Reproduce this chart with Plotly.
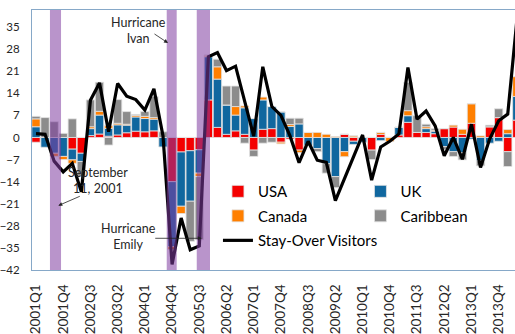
import plotly.graph_objects as go

# Quarterly periods, 2001Q1 .. 2014Q2
quarters = [f"{y}Q{q}" for y in range(2001, 2015) for q in range(1, 5)][:54]

# Contribution to growth by source market (percentage points)
usa = [-1.5, 0, 0, 0, -3.7, -5.0, 0.6, 1.1, 0.4, 0.8,
       1.5, 2.0, 1.8, 2.1, 0, -14.0, -4.6, -4.2, -3.9, 11.9,
       3.2, 1.0, 2.1, 1.0, -4.0, 2.6, 2.8, -1.5, -0.5, -4.0,
       0, 0, 0, 0, 1.0, -1.2, 0, -4.0, 1.0, 0,
       0.8, 4.8, 1.6, 1.6, 1.2, 2.8, 3.3, 1.0, 4.5, 0,
       3.4, 6.3, -4.5, 5.5]
uk = [3.4, -3.1, -5.0, -6.0, -3.4, -2.6, 2.2, 6.0, 2.5, 3.2,
      2.4, 4.5, 4.2, 3.7, -3.0, -20.6, -17.2, -16.0, -7.4, 13.7,
      15.3, 9.3, 5.0, 8.4, 6.0, 9.3, 7.0, 8.1, 3.5, 4.3,
      -2.5, -3.5, -8.3, -12.4, -4.5, -1.0, -1.5, 0, -1.0, 0,
      2.4, 2.1, 0, 1.2, 0.8, -2.9, -4.5, -4.8, -0.5, -7.4,
      -1.8, -1.2, 1.2, 7.5]
canada = [2.5, 0, -1.0, -1.0, -1.1, 0, 0.6, 1.2, 0.8, 0.5,
          0.3, 0.5, 0.7, 0.5, 0, -0.9, -2.3, 0, -1.1, 0.5,
          3.9, 0, 2.7, 0.6, 0, 0.9, 0, -0.5, 0.6, -0.8,
          1.6, 1.6, 1.0, 0.3, -1.6, 0.5, 0, 0, 0.6, -1.3,
          0, 1.6, 0, 0.6, 0.3, 0, 0.6, 1.6, 6.2, 0.5,
          0, 0, 1.3, 6.3]
caribbean = [0.8, 6.3, 5.0, 1.3, 5.9, -4.7, 8.5, 9.2, -2.4, 7.5,
             4.0, 0.3, 1.5, 6.7, 1.8, 0, 0, -12.7, -20.0, 0,
             2.4, 6.0, 6.5, -1.8, -2.0, -1.8, -1.5, 0, 2.0, 1.8,
             0, -1.0, -3.0, -3.5, 0, 0, 0, -3.0, 0, 0,
             0, 9.0, 5.3, 0.8, 0.5, -1.0, -1.5, -2.3, 0, -1.6,
             0.5, 2.8, -4.7, 0]

# Total stay-over visitor growth (%)
stay_over = [1.2, 1.0, -7.5, -10.9, -8.2, -17.2, 11.8, 17.3, 1.8, 17.1,
             13.1, 12.0, 8.7, 15.4, 0.5, -40.2, -25.5, -35.6, -34.4, 25.6,
             26.9, 21.2, 22.6, 11.3, 0.4, 22.4, 9.8, 7.0, 0.5, -8.0,
             -1.2, -7.2, -7.9, -20.0, -13.0, -6.5, 0.8, -13.5, -3.0, -1.2,
             1.1, 22.2, 5.8, 8.4, 3.7, -5.8, 0, -6.9, 4.2, -9.5,
             -0.5, 5.3, 7.4, 37.0]

tick_labels = quarters[0:52:3]
y_ticks = list(range(-42, 36, 7))

# Shaded event periods, in category units
events = [(1.54, 2.76), (14.41, 15.51), (17.72, 19.18)]

FONT = "Lato"
TXT = "#262626"
Y_MIN, Y_MAX = -42, 40.4
X_MIN, X_MAX = -0.44, 52.8

fig = go.Figure()

series = [
    ("USA", usa, "#F40000", "legend"),
    ("UK", uk, "#10679F", "legend2"),
    ("Canada", canada, "#FF7F00", "legend"),
    ("Caribbean", caribbean, "#8C8C8C", "legend2"),
]
for name, vals, color, leg in series:
    fig.add_trace(go.Bar(
        x=quarters, y=vals, name=name, legend=leg, legendgroup=name,
        marker=dict(color=color, line=dict(color="#E3E3E3", width=0.8)),
    ))

fig.add_trace(go.Scatter(
    x=quarters, y=stay_over, name="Stay-Over Visitors", mode="lines",
    legend="legend", legendgroup="stay",
    line=dict(color="black", width=3.2),
))

for x0, x1 in events:
    fig.add_shape(type="rect", xref="x", yref="y", x0=x0, x1=x1,
                  y0=Y_MIN, y1=Y_MAX, layer="above", line=dict(width=0),
                  fillcolor="rgb(128,60,160)", opacity=0.55)

ann_font = dict(family=FONT, size=12.5, color=TXT)
fig.add_annotation(x=11.3, y=33.85, text="Hurricane<br>Ivan", showarrow=False,
                   font=ann_font)
fig.add_annotation(x=6.78, y=-13.57, text="September<br>11, 2001", showarrow=False,
                   font=ann_font)
fig.add_annotation(x=10.25, y=-31.44, text="Hurricane<br>Emily", showarrow=False,
                   font=ann_font)

arrow = dict(showarrow=True, text="", arrowhead=2, arrowsize=1,
             arrowwidth=0.8, arrowcolor="#222222", axref="pixel", ayref="pixel")
fig.add_annotation(x=14.55, y=29.95, ax=-15, ay=-10, **arrow)
fig.add_annotation(x=2.46, y=-21.6, ax=23, ay=-10, **arrow)
fig.add_annotation(x=18.27, y=-31.95, ax=-48, ay=0, **arrow)

leg_common = dict(font=dict(family=FONT, size=15, color="black"),
                  bgcolor="rgba(0,0,0,0)", tracegroupgap=2,
                  itemwidth=30, xanchor="left", yanchor="top",
                  traceorder="grouped")

fig.update_layout(
    width=515, height=334,
    margin=dict(l=32, r=0, t=10, b=64),
    paper_bgcolor="white", plot_bgcolor="white",
    barmode="relative", bargap=0.08,
    font=dict(family=FONT, color=TXT),
    showlegend=True,
    legend=dict(x=0.385, y=0.365, **leg_common),
    legend2=dict(x=0.68, y=0.365, **leg_common),
    xaxis=dict(
        type="category", categoryorder="array", categoryarray=quarters,
        range=[X_MIN, X_MAX], tickmode="array", tickvals=tick_labels,
        ticktext=tick_labels, tickangle=-90, ticks="",
        tickfont=dict(family=FONT, size=13.5, color=TXT),
        showgrid=False, showline=True, linecolor="#86A8C8", linewidth=1,
        mirror=True, zeroline=False, ticklabelstandoff=8,
    ),
    xaxis2=dict(
        overlaying="x", anchor="free",
        position=(0 - Y_MIN) / (Y_MAX - Y_MIN),
        range=[X_MIN, X_MAX], tickmode="linear", tick0=-0.5, dtick=1,
        ticks="outside", ticklen=4, tickcolor="#C8C8C8", showticklabels=False,
        showgrid=False, showline=True, linecolor="#C8C8C8", linewidth=1,
        zeroline=False,
    ),
    yaxis=dict(
        range=[Y_MIN, Y_MAX], tickmode="array", tickvals=y_ticks,
        tickfont=dict(family=FONT, size=11.5, color=TXT),
        showgrid=False, zeroline=False, showline=True,
        linecolor="#86A8C8", linewidth=1, ticks="", ticklabelstandoff=9,
    ),
)

fig.write_html("out.html")
